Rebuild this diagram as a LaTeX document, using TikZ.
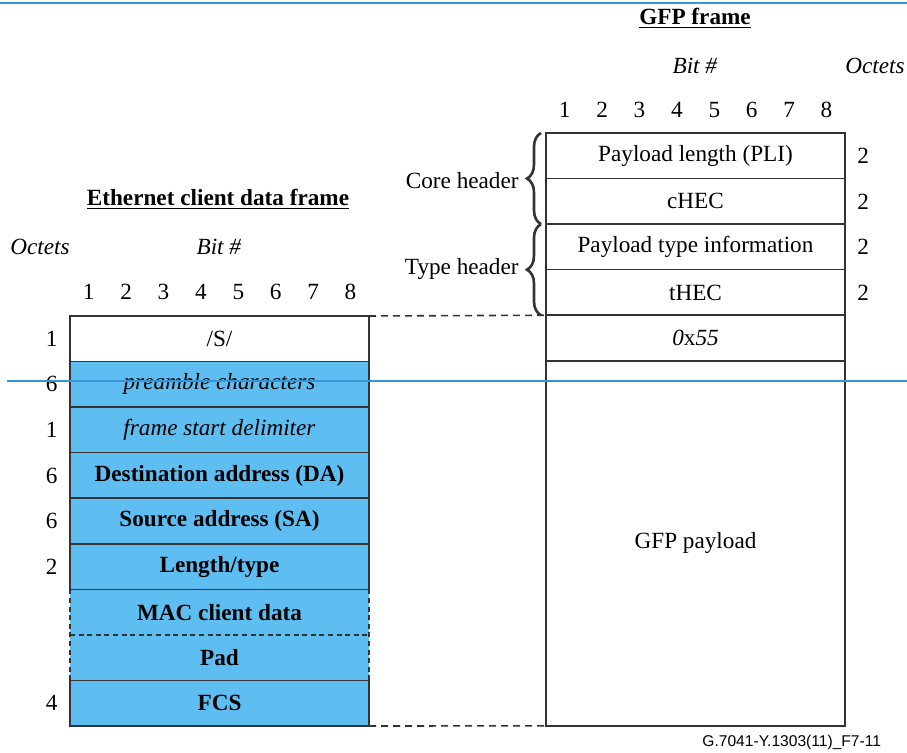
\documentclass[tikz,border=0pt]{standalone}
\usepackage{fontspec}
\setmainfont{Liberation Serif}
\newfontfamily\tagfont{Liberation Sans}
\usepackage{tikz}
\usetikzlibrary{positioning, decorations.pathreplacing}
\definecolor{framegray}{RGB}{51,51,51}
\definecolor{ethblue}{RGB}{94,190,242}
\definecolor{ruleblue}{RGB}{52,150,214}
\newcommand{\figfont}{\fontsize{11.6}{13.9}\selectfont}

\begin{document}
\begin{tikzpicture}[
        x=0.5pt, y=-0.5pt,
        node distance=0pt,
        % Styles
        field/.style={rectangle, draw=framegray, fill=white, line width=0.8pt,
                     minimum width=149.5pt, minimum height=22.78pt, inner sep=0pt, outer sep=0pt,
                     align=center, font=\figfont},
        ethfield/.style={field, fill=ethblue},
        border/.style={framegray, line width=0.8pt},
        txt/.style={font=\figfont, inner sep=0pt},
        octet/.style={font=\figfont, inner sep=0pt},
        heading/.style={font=\figfont\bfseries, inner sep=0pt},
        hbrace/.style={decorate, decoration={brace, amplitude=7pt}, line width=1.3pt, framegray},
        link/.style={line width=0.8pt, framegray, dash pattern=on 3.5pt off 2.5pt},
        guide/.style={ruleblue, line width=1pt},
    ]
    \useasboundingbox (0,0) rectangle (907,753);

    % Ethernet client data frame (left)
    \node[field, anchor=north west] (srow) at (70,316) {/S/};
    \node[ethfield, below=of srow] (pre) {\textit{preamble characters}};
    \node[ethfield, below=of pre] (sfd) {\textit{frame start delimiter}};
    \node[ethfield, below=of sfd] (da) {\textbf{Destination address (DA)}};
    \node[ethfield, below=of da] (sa) {\textbf{Source address (SA)}};
    \node[ethfield, below=of sa] (lt) {\textbf{Length/type}};
    \node[ethfield, draw=none, below=of lt] (mac) {\textbf{MAC client data}};
    \node[ethfield, draw=none, below=of mac] (pad) {\textbf{Pad}};
    \node[ethfield, below=of pad] (fcs) {\textbf{FCS}};

    % Octet counts (left)
    \foreach \r/\n in {srow/1, pre/6, sfd/1, da/6, sa/6, lt/2, fcs/4}
        \node[octet, left=6pt of \r] (\r-oct) {\n};

    % GFP frame (right)
    \node[field, anchor=north west] (pli) at (546,133) {Payload length (PLI)};
    \node[field, below=of pli] (chec) {cHEC};
    \node[field, below=of chec] (pti) {Payload type information};
    \node[field, below=of pti] (thec) {tHEC};
    \node[field, below=of thec] (x55) {\textit{0}x\textit{55}};
    \node[field, below=of x55, minimum height=182.5pt] (payload) {GFP payload};

    % Octet counts (right)
    \foreach \r in {pli, chec, pti, thec}
        \node[octet, right=6pt of \r] (\r-oct) {2};

    % Full-width borders on top of the fills
    \foreach \r in {srow, pre, sfd, da, sa, lt, fcs, pli, chec, pti, thec, x55, payload}
        \draw[border] (\r.north west) rectangle (\r.south east);

    % Dashed sides of the variable part
    \draw[border, dash pattern=on 2.5pt off 1.8pt] (mac.north west) -- (pad.south west);
    \draw[border, dash pattern=on 2.5pt off 1.8pt] (mac.north east) -- (pad.south east);
    \draw[border, dash pattern=on 2.5pt off 1.8pt] (mac.south west) -- (mac.south east);

    % Bit numbers
    \foreach \b in {1,...,8} {
        \node[octet] (ebit\b) at ({88.7+37.4*(\b-1)},292) {\b};
        \node[octet] (gbit\b) at ({564.7+37.4*(\b-1)},110) {\b};
    }

    % Headers
    \draw[hbrace] ([xshift=-2.5pt]chec.south west) -- ([xshift=-2.5pt]pli.north west);
    \draw[hbrace] ([xshift=-2.5pt]thec.south west) -- ([xshift=-2.5pt]pti.north west);
    \node[txt, anchor=east] (corehdr) at (519,181) {Core header};
    \node[txt, anchor=east] (typehdr) at (519,269) {Type header};

    % Mapping lines
    \draw[link] (srow.north east) -- (x55.north west);
    \draw[link] (fcs.south east) -- (payload.south west);

    % Labels
    \node[heading] (ethtitle) at (218,199) {\underline{Ethernet client data frame}};
    \node[heading] (gfptitle) at (695,18) {\underline{GFP frame}};
    \node[txt] (ebits) at (219,247) {\textit{Bit \#}};
    \node[txt] (gbits) at (695,66) {\textit{Bit \#}};
    \node[txt] (eoctets) at (40,247) {\textit{Octets}};
    \node[txt] (goctets) at (875,66) {\textit{Octets}};
    \node[anchor=west, inner sep=0pt, font=\tagfont\fontsize{7.8}{9}\selectfont] (figtag) at (702,742) {G.7041-Y.1303(11)\_F7-11};

    % Blue rules
    \draw[guide] (0,3) -- (907,3);
    \draw[guide] (7,381) -- (907,381);
\end{tikzpicture}
\end{document}
